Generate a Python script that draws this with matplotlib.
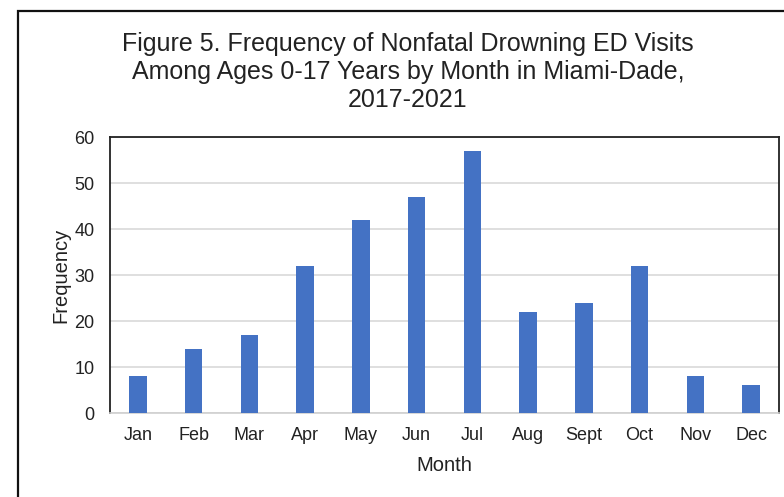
import matplotlib.pyplot as plt
from matplotlib.patches import Rectangle

plt.rcParams["font.family"] = ["Liberation Sans", "DejaVu Sans"]

months = ["Jan", "Feb", "Mar", "Apr", "May", "Jun",
          "Jul", "Aug", "Sept", "Oct", "Nov", "Dec"]
visits = [8, 14, 17, 32, 42, 47, 57, 22, 24, 32, 8, 6]
y_ticks = [0, 10, 20, 30, 40, 50, 60]

fig = plt.figure(figsize=(7.84, 4.97), dpi=100)
ax = fig.add_axes([110 / 784, 1 - 413 / 497, 669 / 784, 276 / 497])

x = range(len(months))
ax.bar(x, visits, width=0.31, color="#4472C4", zorder=3)

ax.set_xlim(-0.5, len(months) - 0.5)
ax.set_ylim(0, 60)
ax.set_yticks(y_ticks)
ax.set_xticks(list(x))
ax.set_xticklabels(months)
ax.tick_params(axis="both", length=0, labelsize=13, colors="#222222")
ax.tick_params(axis="x", pad=10)
ax.tick_params(axis="y", pad=11)
ax.yaxis.grid(True, color="#d9d9d9", linewidth=1.2, zorder=0)

for side in ["left", "top", "right"]:
    ax.spines[side].set_color("#222222")
    ax.spines[side].set_linewidth(1.3)
ax.spines["bottom"].set_color("#d0d0d0")
ax.spines["bottom"].set_linewidth(1.2)

ax.set_xlabel("Month", fontsize=14.5, color="#222222", labelpad=9)
ax.set_ylabel("Frequency", fontsize=14.5, color="#222222", labelpad=3)

fig.text(408 / 784, 1 - 32 / 497,
         "Figure 5. Frequency of Nonfatal Drowning ED Visits\n"
         "Among Ages 0-17 Years by Month in Miami-Dade,\n2017-2021",
         ha="center", va="top", fontsize=18, color="#222222", linespacing=1.2)

# outer frame around the chart area
fig.patches.append(Rectangle((18 / 784, -0.1), 1.0, 1 - 11 / 497 + 0.1,
                             transform=fig.transFigure, fill=False,
                             edgecolor="#111111", linewidth=1.6))

fig.savefig("out.png", dpi=100)
